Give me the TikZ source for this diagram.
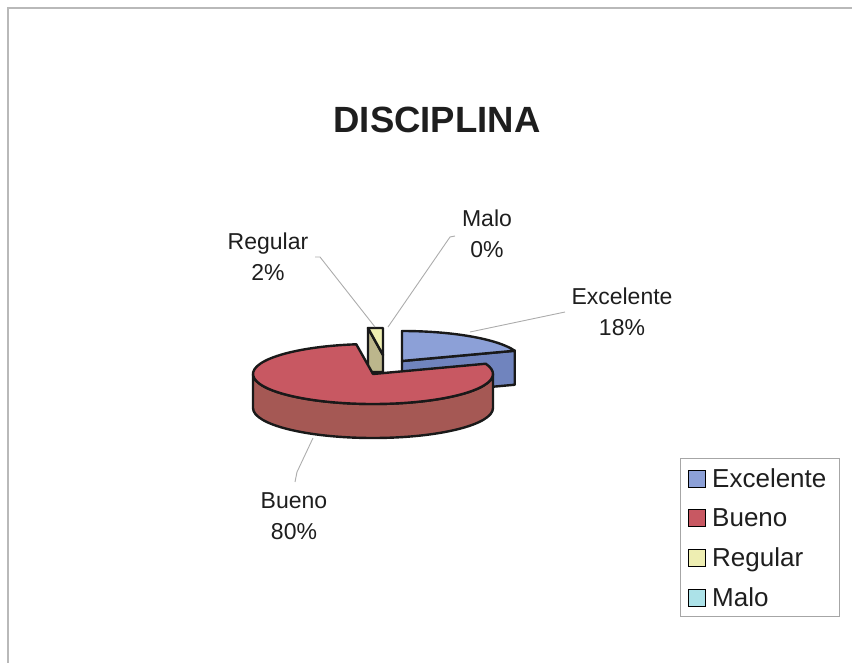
\documentclass[tikz,border=0pt]{standalone}
\usepackage{fontspec}
\setmainfont{Liberation Sans}
\usetikzlibrary{calc}

\definecolor{txt}{RGB}{30,30,30}
\definecolor{excTop}{RGB}{140,160,215}
\definecolor{excSide}{RGB}{112,132,190}
\definecolor{bueTop}{RGB}{200,88,98}
\definecolor{bueSide}{RGB}{165,88,84}
\definecolor{regTop}{RGB}{238,238,178}
\definecolor{regSide}{RGB}{188,182,140}
\definecolor{malTop}{RGB}{172,226,232}

\begin{document}
\begin{tikzpicture}[x=1pt,y=-1pt,
    lbl/.style={align=center, font=\fontsize{23}{31}\selectfont, text=txt, inner sep=0pt, anchor=base},
    pie/.style={draw=black!90, line width=2.4pt, line join=round},
    key/.style={rectangle, draw=black, line width=1.4pt, minimum size=16.5pt, inner sep=0pt},
    keytxt/.style={anchor=base west, font=\fontsize{26}{30}\selectfont, text=txt, inner sep=0pt}]

    \useasboundingbox (0,0) rectangle (852,663);
    \draw[gray!55, line width=1.5pt] (8,663) -- (8,8) -- (852,8);

    \draw (437,133) node[font=\bfseries\fontsize{36.5}{40}\selectfont, text=txt, anchor=base, inner sep=0pt](title){DISCIPLINA};

    % Excelente, pulled out
    \coordinate (ce) at (402,361);
    \filldraw[pie, fill=excSide] (ce) -- ($(ce)+(20:120pt and 30pt)$) -- ++(0,34) -- ($(ce)+(0,34)$) -- cycle;
    \filldraw[pie, fill=excTop] (ce) -- ($(ce)+(20:120pt and 30pt)$)
        arc[start angle=20, end angle=90, x radius=120pt, y radius=30pt] -- cycle;

    % Regular, thin slice
    \filldraw[pie, fill=regSide] (368,328) -- (383,355) -- (383,372) -- (368,372) -- cycle;
    \filldraw[pie, fill=regTop] (368,328) -- (383,328) -- (383,355) -- cycle;

    % Bueno
    \coordinate (cb) at (373,374);
    \filldraw[pie, fill=bueSide] ($(cb)+(180:120pt and 30pt)$)
        arc[start angle=180, end angle=360, x radius=120pt, y radius=30pt] -- ++(0,34)
        arc[start angle=360, end angle=180, x radius=120pt, y radius=30pt] -- cycle;
    \filldraw[pie, fill=bueTop] (cb) -- ($(cb)+(98:120pt and 30pt)$)
        arc[start angle=98, end angle=380, x radius=120pt, y radius=30pt] -- cycle;

    % data labels (base = last line)
    \draw (622,335) node[lbl](lexc){Excelente\\18\%};
    \draw (487,258) node[lbl](lmal){Malo\\0\%};
    \draw (268,280) node[lbl](lreg){Regular\\2\%};
    \draw (294,539) node[lbl](lbue){Bueno\\80\%};

    \coordinate (texc) at (470,332);
    \coordinate (fexc) at (565,312);
    \coordinate (tmal) at (388,327);
    \coordinate (fmal) at (455,236);
    \coordinate (treg) at (375,327);
    \coordinate (freg) at (315,257);
    \coordinate (tbue) at (313,438);
    \coordinate (fbue) at (295,482);

    \begin{scope}[draw=gray!65, line width=0.9pt]
        \draw (fexc) -- (texc);
        \draw (fmal) -- ++(-5,1) -- (tmal);
        \draw (freg) -- ++(5,0) -- (treg);
        \draw (fbue) -- ++(2,-10) -- (tbue);
    \end{scope}

    % legend
    \draw (759.5,537) node[rectangle, draw=gray!70, line width=1pt, minimum width=159pt, minimum height=158pt](leg){};
    \draw (697,479) node[key, fill=excTop](kexc){};
    \draw (697,518) node[key, fill=bueTop](kbue){};
    \draw (697,558) node[key, fill=regTop](kreg){};
    \draw (697,598) node[key, fill=malTop](kmal){};
    \draw (712,487) node[keytxt](texcl){Excelente};
    \draw (712,526) node[keytxt](tbuel){Bueno};
    \draw (712,566) node[keytxt](tregl){Regular};
    \draw (712,606) node[keytxt](tmall){Malo};
\end{tikzpicture}
\end{document}
